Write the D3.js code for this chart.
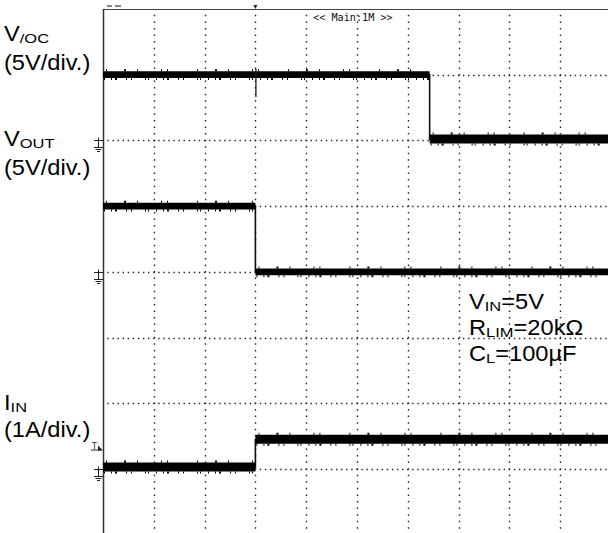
<!DOCTYPE html>
<html><head><meta charset="utf-8">
<script src="https://cdn.jsdelivr.net/npm/d3@7"></script>
<style>html,body{margin:0;padding:0;background:#fff;} svg{display:block;}</style>
</head><body>
<script>
// ---- data (time in divisions, amplitudes in V / A) ----
const gridCols = [0,1,2,3,4,5,6,7,8,9,10];
const gridRows = [0,1,2,3,4,5,6,7,8];
const vocTime  = [0, 6.43, 6.43, 10.2];
const vocValue = [5.0, 5.0, 0.1, 0.1];
const voutTime  = [0, 3.0, 3.0, 10.2];
const voutValue = [5.0, 5.0, 0.0, 0.0];
const iinTime  = [0, 3.0, 3.0, 10.2];
const iinValue = [0.03, 0.03, 0.45, 0.45];
const vocSpikeTime = [3.0];
const vocSpikeValue = [3.3];
const channelGround = [2, 4, 7];      // division row of each channel's ground marker
const channelPerDiv = [5, 5, 1];      // 5V/div, 5V/div, 1A/div
const triggerRow = 6.66;
const triggerTime = 3.0;
const headerText = "<< Main:1M >>";
const conditionLines = [
  [{t:"V"},{t:"IN",sub:true},{t:"=5V"}],
  [{t:"R"},{t:"LIM",sub:true},{t:"=20kΩ"}],
  [{t:"C"},{t:"L",sub:true},{t:"=100µF"}]
];
const channelLabels = [
  [[{t:"V"},{t:"/OC",sub:true}], [{t:"(5V/div.)"}]],
  [[{t:"V"},{t:"OUT",sub:true}], [{t:"(5V/div.)"}]],
  [[{t:"I"},{t:"IN",sub:true}], [{t:"(1A/div.)"}]]
];

// ---- layout ----
const W = 608, H = 533;
const svg = d3.select("body").append("svg").attr("width", W).attr("height", H);
const x = d3.scaleLinear().domain([0, 10]).range([103, 611]);
const row = d3.scaleLinear().domain([0, 8]).range([9, 534.6]);
const divH = row(1) - row(0), divW = x(1) - x(0);
const chY = (ch, v) => row(channelGround[ch] - v / channelPerDiv[ch]);

// grid dots
const grid = svg.append("g");
gridCols.slice(1, -1).forEach(c => {
  grid.append("line").attr("x1", Math.round(x(c)) + 0.5).attr("x2", Math.round(x(c)) + 0.5)
    .attr("y1", row(0)).attr("y2", H)
    .attr("stroke", "#222").attr("stroke-width", 1.4)
    .attr("stroke-dasharray", `1.5 ${divH / 10 - 1.5}`).attr("stroke-dashoffset", -divH / 10 + 0.75);
});
gridRows.slice(1, -1).forEach(r => {
  grid.append("line").attr("y1", Math.round(row(r)) + 0.5).attr("y2", Math.round(row(r)) + 0.5)
    .attr("x1", x(0)).attr("x2", W)
    .attr("stroke", "#222").attr("stroke-width", 1.4)
    .attr("stroke-dasharray", `1.4 ${divW / 10 - 1.4}`).attr("stroke-dashoffset", -divW / 10 + 0.7);
});

// borders
svg.append("line").attr("x1", x(0)).attr("x2", W).attr("y1", 9.5).attr("y2", 9.5)
  .attr("stroke", "#444").attr("stroke-width", 1);
svg.append("line").attr("x1", 103.5).attr("x2", 103.5).attr("y1", 9).attr("y2", H)
  .attr("stroke", "#333").attr("stroke-width", 1.5);
// top markers
svg.append("line").attr("x1", 107).attr("x2", 112).attr("y1", 6).attr("y2", 6).attr("stroke", "#333").attr("stroke-width", 1.2);
svg.append("line").attr("x1", 115).attr("x2", 121).attr("y1", 6).attr("y2", 6).attr("stroke", "#333").attr("stroke-width", 1.2);
svg.append("path").attr("d", `M${x(triggerTime)-2},5 L${x(triggerTime)+2},5 L${x(triggerTime)},9 Z`).attr("fill", "#222");

// header text
svg.append("text").attr("x", 313).attr("y", 21)
  .attr("font-family", "'DejaVu Sans Mono', monospace").attr("font-size", 10.2)
  .attr("fill", "#111").text(headerText);

// ground markers
channelGround.forEach(g => {
  const y = Math.round(row(g)) + 0.5;
  const m = svg.append("g").attr("stroke", "#222").attr("stroke-width", 1).attr("fill", "none");
  m.append("line").attr("x1", 94).attr("x2", 103).attr("y1", y).attr("y2", y);
  m.append("line").attr("x1", 98.5).attr("x2", 98.5).attr("y1", y - 3).attr("y2", y + 7);
  m.append("line").attr("x1", 94).attr("x2", 103).attr("y1", y + 7).attr("y2", y + 7);
  m.append("line").attr("x1", 95.5).attr("x2", 101.5).attr("y1", y + 9).attr("y2", y + 9);
  m.append("line").attr("x1", 97).attr("x2", 100).attr("y1", y + 11).attr("y2", y + 11);
});
// trigger level marker
{
  const y = row(triggerRow);
  svg.append("text").attr("x", 92).attr("y", y + 2).attr("font-family", "'DejaVu Sans', sans-serif")
    .attr("font-size", 8).attr("fill", "#222").text("T");
  svg.append("line").attr("x1", 91).attr("x2", 101).attr("y1", y + 3.5).attr("y2", y + 3.5).attr("stroke", "#222");
  svg.append("path").attr("d", `M${98},${y - 1} L${103},${y + 4} L${98},${y + 4} Z`).attr("fill", "#222");
}

// traces
function drawTrace(ch, times, values, bandHi, bandLo) {
  const pts = times.map((t, i) => [x(t), chY(ch, values[i])]);
  svg.append("path").attr("d", d3.line()(pts)).attr("fill", "none")
    .attr("stroke", "#111").attr("stroke-width", 1.6);
  for (let i = 0; i < times.length - 1; i++) {
    if (values[i] === values[i + 1]) {
      const bw = i === 0 ? bandHi : bandLo;
      const y = chY(ch, values[i]);
      svg.append("line").attr("x1", x(times[i])).attr("x2", Math.min(x(times[i + 1]), W))
        .attr("y1", y).attr("y2", y).attr("stroke", "#000").attr("stroke-width", bw);
      svg.append("line").attr("x1", x(times[i]) + 1).attr("x2", Math.min(x(times[i + 1]), W))
        .attr("y1", y + bw / 2 + 1).attr("y2", y + bw / 2 + 1).attr("stroke", "#000").attr("stroke-width", 2)
        .attr("stroke-dasharray", "1 6 1 3 2 9 1 4 1 13 1 2 1 7");
      svg.append("line").attr("x1", x(times[i]) + 3).attr("x2", Math.min(x(times[i + 1]), W))
        .attr("y1", y - bw / 2 - 1).attr("y2", y - bw / 2 - 1).attr("stroke", "#000").attr("stroke-width", 2)
        .attr("stroke-dasharray", "1 17 2 11 1 23 1 5 1 29");
    }
  }
}
drawTrace(0, vocTime, vocValue, 6.7, 9);
drawTrace(1, voutTime, voutValue, 6.8, 6.8);
drawTrace(2, iinTime, iinValue, 9, 9);
vocSpikeTime.forEach((t, i) => {
  svg.append("line").attr("x1", x(t) + 0.5).attr("x2", x(t) + 0.5)
    .attr("y1", chY(0, vocValue[0]) - 6).attr("y2", chY(0, vocSpikeValue[i]))
    .attr("stroke", "#222").attr("stroke-width", 1.3);
});

// rich text helper
const FONT = "'Liberation Sans', Arial, Helvetica, sans-serif";
function rich(x0, y0, segs) {
  let cx = x0;
  segs.forEach(s => {
    const size = s.sub ? 13.5 : 21.5, sx = s.sub ? 1.22 : 1.1, dy = s.sub ? 1.5 : 0;
    const t = svg.append("text").attr("font-family", FONT).attr("font-size", size).attr("fill", "#000")
      .attr("transform", `translate(${cx},${y0 + dy}) scale(${sx},1)`).text(s.t);
    cx += t.node().getComputedTextLength() * sx;
  });
}
const labelBase = [[41, 70], [146, 175], [410, 437]];
channelLabels.forEach((lbl, i) => {
  rich(4, labelBase[i][0], lbl[0]);
  rich(4, labelBase[i][1], lbl[1]);
});
conditionLines.forEach((ln, i) => rich(469, 309 + 26 * i, ln));
</script>
</body></html>
